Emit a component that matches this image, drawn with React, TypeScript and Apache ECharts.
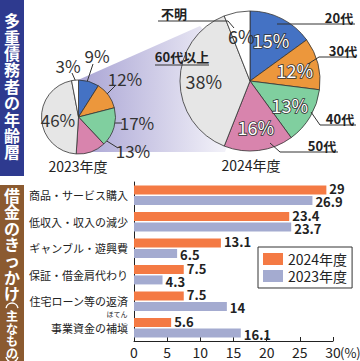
import React, { useEffect, useRef } from 'react';
import * as echarts from 'echarts';

// ---- data ----
const ageNames = ['20代', '30代', '40代', '50代', '60代以上', '不明'];
const share2023 = [9, 12, 17, 13, 46, 3];
const share2024 = [15, 12, 13, 16, 38, 6];

const causes = ['商品・サービス購入', '低収入・収入の減少', 'ギャンブル・遊興費', '保証・借金肩代わり', '住宅ローン等の返済', '事業資金の補塡'];
const cause2024 = [29, 23.4, 13.1, 7.5, 7.5, 5.6];
const cause2023 = [26.9, 23.7, 6.5, 4.3, 14, 16.1];
const yearNames = ['2024年度', '2023年度'];

// ---- styling / layout ----
const FONT = '"Noto Sans CJK JP", "Noto Sans", sans-serif';
const sliceColors = ['#4472c4', '#ec973c', '#80cf9f', '#d884ad', '#e6e6e6', '#ffffff'];
const barColors = ['#f47a44', '#a4abd0'];
const smallC = [78.5, 117];
const smallR = 37;
const bigC = [250, 81];
const bigR = 70;

const smallLabelPos = [[97, 55], [125, 78], [137, 122], [133, 150], [58, 119], [68, 65]];
const smallLabelLines: (number[][] | null)[] = [
  [[87, 82], [93, 64]],
  [[104, 97], [115, 86]],
  [[107, 123], [122, 123]],
  [[102, 138], [118, 148]],
  null,
  [[76, 82], [72, 73]],
];
const bigNamePos = [[339, 17], [343, 50], [340, 118], [322, 145], [182, 56], [174, 13]];
const bigNameLines = [
  [[277, 24], [355, 24]],
  [[308, 64], [319, 57], [356, 57]],
  [[311, 112], [320, 125], [356, 125]],
  [[270, 143], [280, 152], [338, 152]],
  [[155, 65], [209, 65]],
  [[158, 21], [228, 21], [234, 28]],
];

function midAngle(values: number[], i: number) {
  const total = values.reduce((a, b) => a + b, 0);
  let acc = 0;
  for (let k = 0; k < i; k++) acc += values[k];
  return ((acc + values[i] / 2) / total) * Math.PI * 2;
}

export default function App() {
  const ref = useRef<HTMLDivElement>(null);
  useEffect(() => {
    if (!ref.current) return;
    const chart = echarts.init(ref.current, undefined, { renderer: 'svg' });

    const vert = (s: string) => s.split('').join('\n');

    const barLabel = (dy: number) => ({
      show: true, position: 'right', distance: 3, offset: [0, dy],
      fontSize: 13, fontWeight: 'bold', color: '#222', fontFamily: FONT,
    });

    const option: any = {
      animation: false,
      textStyle: { fontFamily: FONT },
      graphic: [
        {
          type: 'polygon',
          z: -1,
          shape: { points: [[78, 80], [200, 26], [250, 81], [225, 152], [78, 152]] },
          style: {
            fill: new echarts.graphic.LinearGradient(0, 0, 1, 0, [
              { offset: 0, color: '#a9a4d4' },
              { offset: 0.45, color: '#cfcce7' },
              { offset: 1, color: '#ffffff' },
            ]),
          },
        },
        { type: 'rect', shape: { x: 0, y: 0, width: 24, height: 176 }, style: { fill: '#2e3a8f' } },
        {
          type: 'text', x: 12, y: 12,
          style: { text: vert('多重債務者の年齢層'), fill: '#fff', fontSize: 16, lineHeight: 16.4, fontWeight: 'bold', align: 'center', verticalAlign: 'top', fontFamily: FONT },
        },
        { type: 'rect', shape: { x: 0, y: 185, width: 24, height: 176 }, style: { fill: '#8b5a30' } },
        {
          type: 'text', x: 12, y: 187,
          style: { text: vert('借金のきっかけ'), fill: '#fff', fontSize: 16, lineHeight: 16.3, fontWeight: 'bold', align: 'center', verticalAlign: 'top', fontFamily: FONT },
        },
        { type: 'arc', shape: { cx: 12, cy: 309, r: 6, startAngle: Math.PI * 1.05, endAngle: Math.PI * 1.95, clockwise: true }, style: { stroke: '#fff', lineWidth: 1.4, fill: 'none' } },
        {
          type: 'text', x: 12, y: 309.5,
          style: { text: vert('主なもの'), fill: '#fff', fontSize: 12, lineHeight: 12.4, fontWeight: 'bold', align: 'center', verticalAlign: 'top', fontFamily: FONT },
        },
        { type: 'arc', shape: { cx: 12, cy: 356, r: 6, startAngle: Math.PI * 0.05, endAngle: Math.PI * 0.95, clockwise: true }, style: { stroke: '#fff', lineWidth: 1.4, fill: 'none' } },
        { type: 'text', x: 78, y: 166, style: { text: '2023年度', fontSize: 14, fill: '#222', align: 'center', verticalAlign: 'middle', fontFamily: FONT } },
        { type: 'text', x: 251, y: 165, style: { text: '2024年度', fontSize: 14, fill: '#222', align: 'center', verticalAlign: 'middle', fontFamily: FONT } },
        { type: 'text', x: 117, y: 314, style: { text: 'ほてん', fontSize: 7, fill: '#222', align: 'center', verticalAlign: 'middle', fontFamily: FONT } },
        { type: 'text', x: 340, y: 352, style: { text: '(%)', fontSize: 13, fill: '#222', align: 'left', verticalAlign: 'middle', fontFamily: FONT } },
      ],
      legend: {
        data: yearNames,
        orient: 'vertical',
        left: 258,
        top: 247,
        itemWidth: 20,
        itemHeight: 12,
        itemGap: 3,
        padding: [5, 5, 5, 5],
        borderColor: '#333',
        borderWidth: 1,
        icon: 'rect',
        textStyle: { fontSize: 14, color: '#222', fontFamily: FONT },
      },
      grid: { left: 134, right: 27, top: 182, bottom: 20 },
      xAxis: {
        type: 'value', min: 0, max: 30, interval: 5,
        axisLine: { show: true, lineStyle: { color: '#222', width: 1 } },
        axisTick: { show: true, inside: true, length: 4, lineStyle: { color: '#222' } },
        splitLine: { show: false },
        axisLabel: { fontSize: 14, color: '#222', margin: 4, fontFamily: FONT },
      },
      yAxis: {
        type: 'category', data: causes, inverse: true,
        axisLine: { show: true, lineStyle: { color: '#222', width: 1 } },
        axisTick: { show: false },
        axisLabel: { fontSize: 11, color: '#222', margin: 6, fontFamily: FONT },
      },
      series: [
        {
          type: 'pie', name: 'small', center: smallC, radius: smallR, startAngle: 90,
          avoidLabelOverlap: false,
          itemStyle: { borderColor: '#333', borderWidth: 0.8 },
          label: { show: true, position: 'outside', formatter: '{c}%', fontSize: 17, color: '#333', fontFamily: FONT },
          labelLine: { show: true, lineStyle: { color: '#333', width: 1 } },
          labelLayout: (p: any) => {
            const pos = smallLabelPos[p.dataIndex];
            const out: any = { x: pos[0], y: pos[1], align: 'center', verticalAlign: 'middle' };
            const ln = smallLabelLines[p.dataIndex];
            if (ln) out.labelLinePoints = ln;
            return out;
          },
          data: share2023.map((v, i) => ({
            name: ageNames[i], value: v,
            itemStyle: { color: sliceColors[i] },
            labelLine: { show: smallLabelLines[i] != null },
          })),
        },
        {
          type: 'pie', name: 'big', center: bigC, radius: bigR, startAngle: 90,
          avoidLabelOverlap: false,
          itemStyle: { borderColor: '#333', borderWidth: 0.8 },
          label: { show: true, position: 'inside', formatter: '{c}%', fontSize: 18, fontFamily: FONT },
          labelLine: { show: false },
          labelLayout: (p: any) => {
            const a = midAngle(share2024, p.dataIndex);
            const rr = bigR * 0.66;
            return { x: bigC[0] + rr * Math.sin(a), y: bigC[1] - rr * Math.cos(a), align: 'center', verticalAlign: 'middle' };
          },
          data: share2024.map((v, i) => ({
            name: ageNames[i], value: v,
            itemStyle: { color: sliceColors[i] },
            label: i < 4
              ? { color: '#fff', textBorderColor: '#333', textBorderWidth: 1.6 }
              : { color: '#333' },
          })),
        },
        {
          type: 'pie', name: 'bigNames', center: bigC, radius: bigR, startAngle: 90,
          avoidLabelOverlap: false, silent: true, z: 3,
          itemStyle: { color: 'rgba(0,0,0,0)', borderWidth: 0 },
          label: { show: true, position: 'outside', formatter: '{b}', fontSize: 13, fontWeight: 'bold', color: '#222', fontFamily: FONT },
          labelLine: { show: true, lineStyle: { color: '#333', width: 1 } },
          labelLayout: (p: any) => {
            const pos = bigNamePos[p.dataIndex];
            return { x: pos[0], y: pos[1], align: 'center', verticalAlign: 'middle', labelLinePoints: bigNameLines[p.dataIndex] };
          },
          data: share2024.map((v, i) => ({ name: ageNames[i], value: v })),
        },
        {
          type: 'bar', name: yearNames[0], data: cause2024, barWidth: 9, barGap: '15%',
          itemStyle: { color: barColors[0] },
          label: barLabel(-1.5),
        },
        {
          type: 'bar', name: yearNames[1], data: cause2023, barWidth: 9,
          itemStyle: { color: barColors[1] },
          label: barLabel(1.5),
        },
      ],
    };
    chart.setOption(option);
    return () => chart.dispose();
  }, []);
  return <div ref={ref} style={{ position: 'fixed', left: 0, top: 0, width: 360, height: 361, background: '#fff' }} />;
}
